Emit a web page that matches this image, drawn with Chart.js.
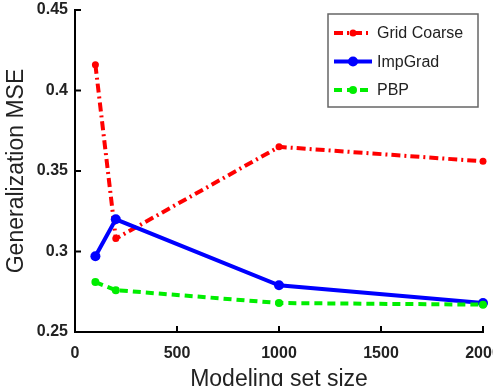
<!DOCTYPE html>
<html>
<head>
<meta charset="utf-8">
<script src="https://cdn.jsdelivr.net/npm/chart.js@4/dist/chart.umd.min.js"></script>
<style>
  html, body { margin: 0; padding: 0; background: #fff; overflow: hidden; }
  #wrap { width: 493px; height: 386px; overflow: hidden; }
  canvas { display: block; }
</style>
</head>
<body>
<div id="wrap"><canvas id="chart" width="493" height="386"></canvas></div>
<script>
// Values.
const sizes = [100, 200, 1000, 2000];
const gridCoarse = [0.416, 0.308, 0.365, 0.356];
const impGrad = [0.297, 0.320, 0.279, 0.268];
const pbp = [0.281, 0.276, 0.268, 0.267];
const xTicks = [0, 500, 1000, 1500, 2000];
const yTicks = [0.25, 0.3, 0.35, 0.4, 0.45];

const FONT = '"Liberation Sans", Arial, Helvetica, sans-serif';

const series = [
    { label: 'Grid Coarse', values: gridCoarse, color: '#ff0000', dash: [9, 4, 2, 4], radius: 3.5, order: 2 },
    { label: 'ImpGrad', values: impGrad, color: '#0000ff', dash: [], radius: 5, order: 1 },
    { label: 'PBP', values: pbp, color: '#00ee00', dash: [8, 5], radius: 4, order: 0 }
];

// Matlab style ticks pointing into the plot.
const inwardTicks = {
    id: 'inwardTicks',
    afterDraw(chart) {
        const ctx = chart.ctx;
        const area = chart.chartArea;
        const x = chart.scales.x, y = chart.scales.y;
        ctx.save();
        ctx.strokeStyle = '#000';
        ctx.lineWidth = 2;
        ctx.beginPath();
        for (const v of xTicks) {
            const px = x.getPixelForValue(v);
            ctx.moveTo(px, area.bottom);
            ctx.lineTo(px, area.bottom - 6);
        }
        for (const v of yTicks) {
            const py = y.getPixelForValue(v);
            ctx.moveTo(area.left, py);
            ctx.lineTo(area.left + 6, py);
        }
        ctx.stroke();
        ctx.restore();
    }
};

// Boxed legend in the top right corner.
const boxLegend = {
    id: 'boxLegend',
    afterDraw(chart) {
        const ctx = chart.ctx;
        const left = 328, top = 14, w = 150, h = 93;
        ctx.save();
        ctx.fillStyle = '#fff';
        ctx.fillRect(left, top, w, h);
        ctx.strokeStyle = '#666';
        ctx.lineWidth = 1.5;
        ctx.strokeRect(left, top, w, h);
        series.forEach((s, i) => {
            const cy = top + 19 + i * 28.5;
            ctx.strokeStyle = s.color;
            ctx.lineWidth = 4;
            ctx.setLineDash(s.dash);
            ctx.beginPath();
            ctx.moveTo(334, cy);
            ctx.lineTo(372, cy);
            ctx.stroke();
            ctx.setLineDash([]);
            ctx.fillStyle = s.color;
            ctx.beginPath();
            ctx.arc(353, cy, s.radius, 0, Math.PI * 2);
            ctx.fill();
            ctx.fillStyle = '#222';
            ctx.font = '16px ' + FONT;
            ctx.textBaseline = 'middle';
            ctx.fillText(s.label, 377, cy + 1);
        });
        ctx.restore();
    }
};

new Chart(document.getElementById('chart'), {
    type: 'line',
    data: {
        datasets: series.map(s => ({
            label: s.label,
            data: sizes.map((x, i) => ({ x: x, y: s.values[i] })),
            borderColor: s.color,
            backgroundColor: s.color,
            borderWidth: 4,
            borderDash: s.dash,
            pointRadius: s.radius,
            pointBorderWidth: 0,
            pointBackgroundColor: s.color,
            tension: 0,
            fill: false,
            clip: false,
            order: s.order
        }))
    },
    options: {
        responsive: false,
        animation: false,
        events: [],
        layout: { padding: { top: 10, right: 10, left: 0, bottom: 0 } },
        plugins: {
            legend: { display: false },
            tooltip: { enabled: false }
        },
        scales: {
            x: {
                type: 'linear',
                min: 0,
                max: 2000,
                afterBuildTicks: scale => { scale.ticks = xTicks.map(v => ({ value: v })); },
                ticks: {
                    color: '#222',
                    font: { family: FONT, size: 16, weight: 'bold' },
                    padding: 12,
                    maxRotation: 0,
                    callback: v => String(v)
                },
                grid: { display: true, drawOnChartArea: false, drawTicks: false },
                border: { display: true, color: '#000', width: 2 },
                title: {
                    display: true,
                    text: 'Modeling set size',
                    color: '#222',
                    font: { family: FONT, size: 23, lineHeight: 1 },
                    padding: { top: 0, bottom: -5 }
                },
                afterFit: scale => {
                    scale.height = 54;
                    scale.paddingLeft = 0;
                    scale.paddingRight = 0;
                }
            },
            y: {
                min: 0.25,
                max: 0.45,
                afterBuildTicks: scale => { scale.ticks = yTicks.map(v => ({ value: v })); },
                ticks: {
                    color: '#222',
                    font: { family: FONT, size: 16, weight: 'bold' },
                    padding: 7,
                    callback: v => String(Number(v.toFixed(2)))
                },
                grid: { display: true, drawOnChartArea: false, drawTicks: false },
                border: { display: true, color: '#000', width: 2 },
                title: {
                    display: true,
                    text: 'Generalization MSE',
                    color: '#222',
                    font: { family: FONT, size: 23, lineHeight: 1 },
                    padding: { top: 5, bottom: 0 }
                },
                afterFit: scale => {
                    scale.width = 75;
                    scale.paddingTop = 0;
                    scale.paddingBottom = 0;
                }
            }
        }
    },
    plugins: [inwardTicks, boxLegend]
});
</script>
</body>
</html>
